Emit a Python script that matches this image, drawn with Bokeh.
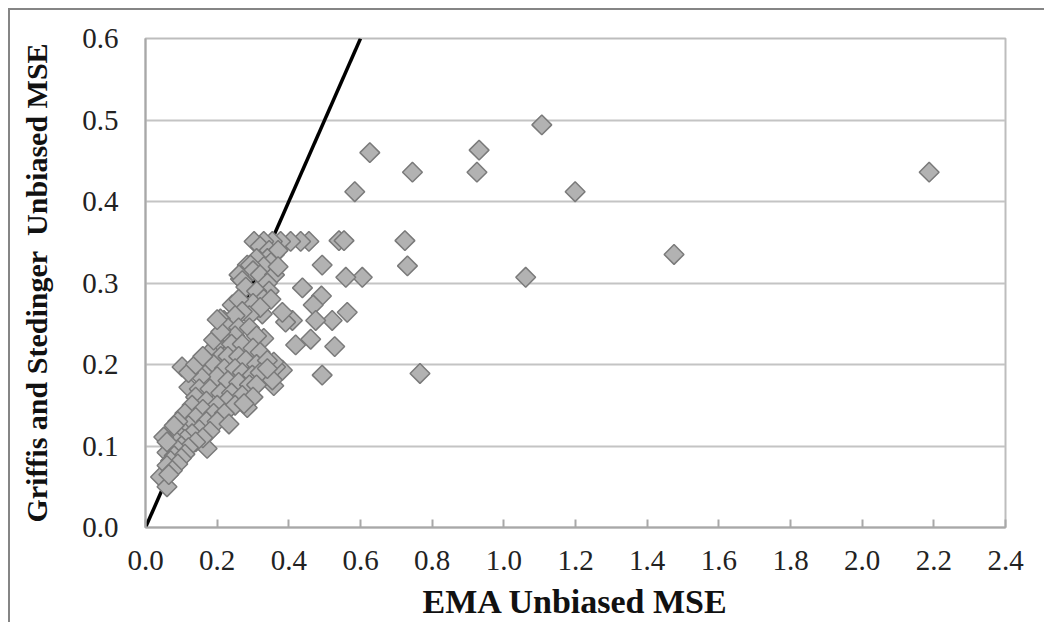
import math
from bokeh.plotting import figure
from bokeh.models import Range1d, FixedTicker, PrintfTickFormatter, ColumnDataSource
from bokeh.embed import file_html
from bokeh.resources import INLINE

# EMA unbiased MSE (x) vs Griffis and Stedinger unbiased MSE (y)
ema_mse = [
    2.187, 1.475, 1.106, 1.199, 1.061, 0.931, 0.925, 0.745, 0.724, 0.731, 0.766, 0.626,
    0.584, 0.605, 0.559, 0.540, 0.554, 0.563, 0.521, 0.528, 0.493, 0.493, 0.491, 0.468,
    0.475, 0.461, 0.438, 0.419, 0.410, 0.456, 0.433, 0.405, 0.377, 0.354, 0.330, 0.303,
    0.391, 0.382, 0.382, 0.363, 0.358, 0.354, 0.358, 0.102, 0.219, 0.172, 0.042, 0.060,
    0.320, 0.345, 0.360, 0.370, 0.340, 0.310, 0.350, 0.330, 0.284, 0.293, 0.300, 0.320,
    0.360, 0.370, 0.340, 0.345, 0.265, 0.261, 0.270, 0.280, 0.310, 0.330, 0.350, 0.300,
    0.242, 0.260, 0.326, 0.320, 0.290, 0.270, 0.250, 0.209, 0.230, 0.260, 0.290, 0.330,
    0.310, 0.250, 0.220, 0.200, 0.240, 0.270, 0.300, 0.320, 0.180, 0.210, 0.230, 0.260,
    0.280, 0.310, 0.340, 0.170, 0.190, 0.220, 0.250, 0.270, 0.298, 0.320, 0.340, 0.160,
    0.200, 0.154, 0.230, 0.260, 0.290, 0.310, 0.121, 0.150, 0.180, 0.210, 0.240, 0.270,
    0.300, 0.140, 0.170, 0.228, 0.284, 0.200, 0.250, 0.130, 0.160, 0.190, 0.220, 0.275,
    0.110, 0.140, 0.170, 0.200, 0.233, 0.120, 0.150, 0.180, 0.100, 0.130, 0.160, 0.090,
    0.110, 0.140, 0.080, 0.100, 0.120, 0.070, 0.090, 0.110, 0.060, 0.080, 0.100, 0.070,
    0.090, 0.060, 0.075, 0.065, 0.051, 0.060, 0.090, 0.080, 0.120, 0.140, 0.160, 0.190,
    0.210, 0.200,
]
gs_mse = [
    0.436, 0.335, 0.494, 0.412, 0.307, 0.463, 0.436, 0.436, 0.352, 0.321, 0.189, 0.460,
    0.412, 0.307, 0.307, 0.352, 0.352, 0.264, 0.254, 0.222, 0.322, 0.187, 0.284, 0.273,
    0.254, 0.231, 0.294, 0.224, 0.254, 0.351, 0.351, 0.351, 0.351, 0.351, 0.351, 0.351,
    0.252, 0.264, 0.193, 0.197, 0.174, 0.181, 0.203, 0.197, 0.254, 0.097, 0.062, 0.050,
    0.345, 0.340, 0.335, 0.340, 0.330, 0.330, 0.325, 0.320, 0.322, 0.322, 0.315, 0.310,
    0.310, 0.320, 0.300, 0.290, 0.305, 0.310, 0.303, 0.295, 0.290, 0.280, 0.280, 0.275,
    0.273, 0.280, 0.262, 0.270, 0.260, 0.265, 0.260, 0.256, 0.245, 0.245, 0.245, 0.232,
    0.235, 0.235, 0.230, 0.225, 0.225, 0.225, 0.220, 0.215, 0.215, 0.210, 0.210, 0.210,
    0.205, 0.200, 0.205, 0.205, 0.200, 0.195, 0.195, 0.190, 0.187, 0.190, 0.195, 0.190,
    0.185, 0.185, 0.180, 0.178, 0.175, 0.175, 0.172, 0.170, 0.170, 0.165, 0.165, 0.162,
    0.160, 0.160, 0.155, 0.156, 0.147, 0.150, 0.150, 0.150, 0.145, 0.140, 0.140, 0.152,
    0.140, 0.135, 0.130, 0.130, 0.127, 0.125, 0.120, 0.118, 0.120, 0.115, 0.110, 0.115,
    0.108, 0.105, 0.108, 0.100, 0.098, 0.100, 0.095, 0.090, 0.092, 0.088, 0.085, 0.082,
    0.078, 0.076, 0.070, 0.065, 0.111, 0.105, 0.130, 0.125, 0.190, 0.200, 0.210, 0.230,
    0.240, 0.255,
]

# 1:1 reference line
one_to_one_x = [0.0, 0.6]
one_to_one_y = [0.0, 0.6]

x_ticks = [0.0, 0.2, 0.4, 0.6, 0.8, 1.0, 1.2, 1.4, 1.6, 1.8, 2.0, 2.2, 2.4]
y_ticks = [0.0, 0.1, 0.2, 0.3, 0.4, 0.5, 0.6]

FONT = "Liberation Serif"

p = figure(
    frame_width=860, frame_height=489,
    x_range=Range1d(0, 2.4), y_range=Range1d(0, 0.6),
    output_backend="svg", toolbar_location=None,
    min_border_left=135, min_border_top=28, min_border_right=39, min_border_bottom=10,
)
p.styles = {"border-left": "2px solid #858585", "border-top": "2px solid #858585",
            "margin-left": "8px", "margin-top": "8px"}

p.background_fill_color = "white"
p.border_fill_color = "white"
p.outline_line_color = "#bdbdbd"
p.outline_line_width = 2

p.xgrid.grid_line_color = None
p.ygrid.grid_line_color = "#c4c4c4"
p.ygrid.grid_line_width = 2
p.ygrid.ticker = FixedTicker(ticks=y_ticks)

p.xaxis.ticker = FixedTicker(ticks=x_ticks)
p.yaxis.ticker = FixedTicker(ticks=y_ticks)
p.xaxis.formatter = PrintfTickFormatter(format="%.1f")
p.yaxis.formatter = PrintfTickFormatter(format="%.1f")

for ax in (p.xaxis[0], p.yaxis[0]):
    ax.axis_line_color = "#a8a8a8"
    ax.axis_line_width = 2
    ax.major_label_text_font = FONT
    ax.major_label_text_font_size = "29px"
    ax.major_label_text_color = "#222222"
    ax.axis_label_text_font = FONT
    ax.axis_label_text_font_style = "bold"
    ax.axis_label_text_color = "#111111"
    ax.minor_tick_line_color = None

p.xaxis.axis_label_text_font_size = "34px"
p.yaxis.axis_label_text_font_size = "30px"

p.xaxis.major_tick_in = 8
p.xaxis.major_tick_out = 0
p.xaxis.major_tick_line_color = "#a8a8a8"
p.xaxis.major_tick_line_width = 2
p.xaxis.major_label_standoff = 23
p.xaxis.axis_label = "EMA Unbiased MSE"
p.xaxis.axis_label_standoff = 10

p.yaxis.major_tick_line_color = None
p.yaxis.major_tick_in = 0
p.yaxis.major_tick_out = 0
p.yaxis.major_label_standoff = 27
p.yaxis.axis_label = "Griffis and Stedinger\u00a0 Unbiased MSE"
p.yaxis.axis_label_standoff = 26

p.line(one_to_one_x, one_to_one_y, line_color="black", line_width=3.5)

src = ColumnDataSource(data=dict(x=ema_mse, y=gs_mse))
p.scatter("x", "y", source=src, marker="square", size=14, angle=math.pi / 4,
          fill_color="#b2b2b2", line_color="#7a7a7a", line_width=1.5)

open("out.html", "w").write(file_html(p, INLINE))
